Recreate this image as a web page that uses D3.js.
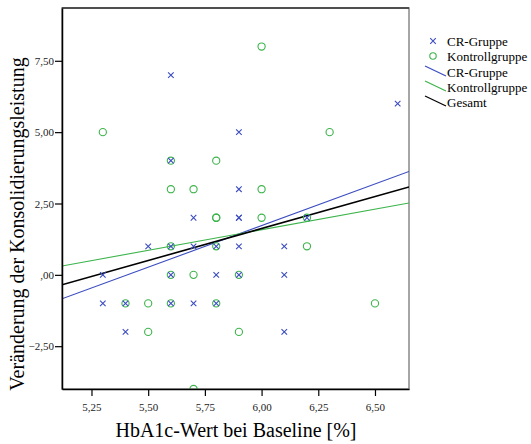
<!DOCTYPE html>
<html>
<head>
<meta charset="utf-8">
<script src="https://cdn.jsdelivr.net/npm/d3@7"></script>
<style>
  body { margin: 0; background: #fff; }
  text { font-family: "Liberation Serif", "Times New Roman", serif; }
</style>
</head>
<body>
<div id="chart"></div>
<script>
// Scatter: HbA1c vs. Veränderung der Konsolidierungsleistung
const width = 531;
const height = 444;

// data
const crX = [5.3, 5.3, 5.4, 5.4, 5.5, 5.6, 5.6, 5.6, 5.6, 5.6, 5.7, 5.7, 5.7, 5.8, 5.8, 5.8, 5.9, 5.9, 5.9, 5.9, 5.9, 5.9, 6.1, 6.1, 6.1, 6.2, 6.6];
const crY = [0, -1, -1, -2, 1, 7, 4, 1, 0, -1, 2, 1, -1, 1, 0, -1, 5, 3, 2, 2, 1, 0, 1, 0, -2, 2, 6];
const kgX = [5.3, 5.4, 5.5, 5.5, 5.6, 5.6, 5.6, 5.6, 5.6, 5.7, 5.7, 5.7, 5.8, 5.8, 5.8, 5.8, 5.8, 5.9, 5.9, 6.0, 6.0, 6.0, 6.2, 6.2, 6.3, 6.5];
const kgY = [5, -1, -1, -2, 4, 3, 1, 0, -1, 3, 0, -4, 4, 2, 2, 1, -1, 0, -2, 8, 3, 2, 2, 1, 5, -1];

// fit lines: [x0, y0, x1, y1]
const fitNames = ["CR-Gruppe", "Kontrollgruppe", "Gesamt"];
const fitLines = [
  [5.12, -0.84, 6.65, 3.62],
  [5.12, 0.31, 6.65, 2.52],
  [5.12, -0.35, 6.65, 3.08]
];

const xTicks = [5.25, 5.5, 5.75, 6.0, 6.25, 6.5];
const yTicks = [-2.5, 0, 2.5, 5, 7.5];

const blue = "#3b4cc0";
const green = "#3cb44b";
const fitColors = [blue, green, "#000000"];

const margin = { left: 62, top: 8, right: 409, bottom: 389 };

const svg = d3
  .select("#chart")
  .append("svg")
  .attr("width", width)
  .attr("height", height);

const x = d3.scaleLinear().domain([5.12, 6.65]).range([margin.left, margin.right]);
const y = d3.scaleLinear().domain([-4, 9.35]).range([margin.bottom, margin.top]);

const fmt = d => {
  let s = d3.format(".2f")(d).replace(".", ",");
  if (s.startsWith("0,")) s = s.slice(1);
  return s;
};

// frame
svg.append("rect")
  .attr("x", margin.left)
  .attr("y", margin.top)
  .attr("width", margin.right - margin.left)
  .attr("height", margin.bottom - margin.top)
  .attr("fill", "none")
  .attr("stroke", "#888")
  .attr("stroke-width", 1.5);
svg.append("line")
  .attr("x1", margin.left).attr("x2", margin.right)
  .attr("y1", margin.top).attr("y2", margin.top)
  .attr("stroke", "#333").attr("stroke-width", 1.5);

const plot = svg.append("g");

// clip for points at the edge
svg.append("clipPath").attr("id", "clip")
  .append("rect")
  .attr("x", margin.left)
  .attr("y", margin.top)
  .attr("width", margin.right - margin.left)
  .attr("height", margin.bottom - margin.top);
plot.attr("clip-path", "url(#clip)");

// fit lines
plot.selectAll("line.fit")
  .data(fitLines)
  .join("line")
  .attr("class", "fit")
  .attr("x1", d => x(d[0]))
  .attr("y1", d => y(d[1]))
  .attr("x2", d => x(d[2]))
  .attr("y2", d => y(d[3]))
  .attr("stroke", (d, i) => fitColors[i])
  .attr("stroke-width", (d, i) => i == 2 ? 1.6 : 1.1);

// control group circles
plot.selectAll("circle.kg")
  .data(kgX.map((v, i) => [v, kgY[i]]))
  .join("circle")
  .attr("class", "kg")
  .attr("cx", d => x(d[0]))
  .attr("cy", d => y(d[1]))
  .attr("r", 3.6)
  .attr("fill", "none")
  .attr("stroke", green)
  .attr("stroke-width", 1.1);

// CR group crosses
const cross = d3.symbol().type(d3.symbolX).size(22);
plot.selectAll("path.cr")
  .data(crX.map((v, i) => [v, crY[i]]))
  .join("path")
  .attr("class", "cr")
  .attr("d", cross)
  .attr("transform", d => `translate(${x(d[0])},${y(d[1])})`)
  .attr("fill", "none")
  .attr("stroke", blue)
  .attr("stroke-width", 1.1);

// axes
const xAxis = svg.append("g")
  .attr("transform", `translate(0,${margin.bottom})`)
  .call(d3.axisBottom(x).tickValues(xTicks).tickFormat(fmt).tickSize(7).tickSizeOuter(0));
const yAxis = svg.append("g")
  .attr("transform", `translate(${margin.left},0)`)
  .call(d3.axisLeft(y).tickValues(yTicks).tickFormat(fmt).tickSize(7).tickSizeOuter(0));

[xAxis, yAxis].forEach(a => {
  a.select(".domain").attr("stroke", "#000").attr("stroke-width", 1.5);
  a.selectAll(".tick line").attr("stroke", "#000").attr("stroke-width", 1.2);
  a.selectAll(".tick text")
    .attr("fill", "#222")
    .style("font-family", "Liberation Serif")
    .style("font-size", "11px");
});
xAxis.selectAll(".tick text").attr("dy", "1.1em");
yAxis.selectAll(".tick text").attr("x", -8);

// axis titles
svg.append("text")
  .attr("x", 236)
  .attr("y", 437)
  .attr("text-anchor", "middle")
  .style("font-size", "20px")
  .text("HbA1c-Wert bei Baseline [%]");

svg.append("text")
  .attr("transform", "translate(24,224) rotate(-90)")
  .attr("text-anchor", "middle")
  .style("font-size", "20px")
  .text("Veränderung der Konsolidierungsleistung");

// legend
const legend = svg.append("g");
const rowY = [41, 56, 72, 87, 102];
const labels = ["CR-Gruppe", "Kontrollgruppe"].concat(fitNames);

legend.append("path")
  .attr("d", cross)
  .attr("transform", `translate(433,${rowY[0]})`)
  .attr("stroke", blue)
  .attr("stroke-width", 1.1)
  .attr("fill", "none");
legend.append("circle")
  .attr("cx", 433)
  .attr("cy", rowY[1])
  .attr("r", 3.2)
  .attr("fill", "none")
  .attr("stroke", green)
  .attr("stroke-width", 1.1);
legend.selectAll("line")
  .data(fitColors)
  .join("line")
  .attr("x1", 425)
  .attr("y1", (d, i) => rowY[i + 2] - 6)
  .attr("x2", 446)
  .attr("y2", (d, i) => rowY[i + 2] + 4)
  .attr("stroke", d => d)
  .attr("stroke-width", 1.2);
legend.selectAll("text")
  .data(labels)
  .join("text")
  .attr("x", 447)
  .attr("y", (d, i) => rowY[i] + 5)
  .style("font-size", "13px")
  .text(d => d);
</script>
</body>
</html>
